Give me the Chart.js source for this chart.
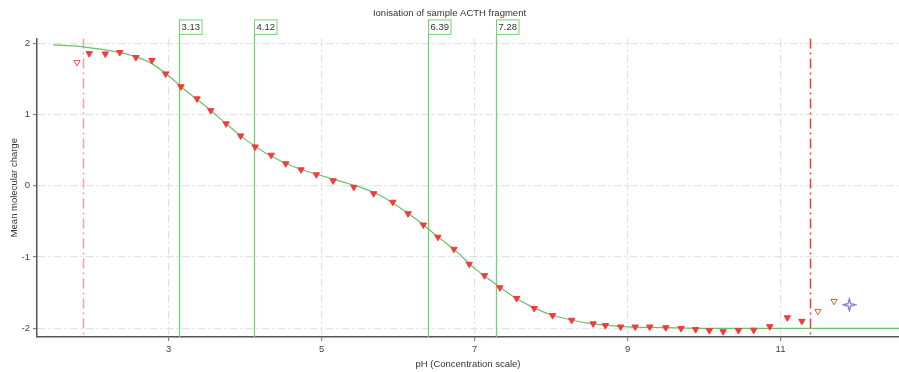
<!DOCTYPE html>
<html>
<head>
<meta charset="utf-8">
<script src="https://cdn.jsdelivr.net/npm/chart.js@4/dist/chart.umd.min.js"></script>
<style>
  html, body { margin: 0; padding: 0; background: #fff; overflow: hidden; }
  #wrap { width: 899px; height: 372px; }
  canvas { display: block; }
</style>
</head>
<body>
<div id="wrap"><canvas id="myChart"></canvas></div>
<script>
// measured points (filled red triangles)
const measuredPH = [1.96, 2.17, 2.36, 2.57, 2.78, 2.96, 3.16, 3.37, 3.55, 3.75, 3.94, 4.13, 4.34, 4.53,
    4.73, 4.93, 5.15, 5.42, 5.68, 5.93, 6.13, 6.33, 6.52, 6.73, 6.93, 7.13, 7.33, 7.55, 7.78, 8.02,
    8.27, 8.55, 8.71, 8.91, 9.10, 9.29, 9.50, 9.70, 9.89, 10.07, 10.25, 10.45, 10.65, 10.86, 11.09, 11.28];
const measuredCharge = [1.855, 1.85, 1.87, 1.80, 1.76, 1.57, 1.39, 1.22, 1.055, 0.87, 0.70, 0.545, 0.43, 0.31,
    0.225, 0.155, 0.07, -0.02, -0.11, -0.23, -0.39, -0.55, -0.72, -0.89, -1.10, -1.26, -1.43, -1.58, -1.72, -1.82,
    -1.885, -1.935, -1.96, -1.98, -1.98, -1.98, -1.99, -2.00, -2.015, -2.03, -2.045, -2.03, -2.025, -1.975, -1.85, -1.90];

// excluded points (open triangles)
const excludedPH = [1.80, 11.49, 11.70];
const excludedCharge = [1.73, -1.76, -1.62];

// the blue star point
const starPH = [11.90];
const starCharge = [-1.67];

// fitted curve
const fitPH = [1.49, 1.75, 2.0, 2.25, 2.5, 2.75, 3.0, 3.25, 3.5, 3.75, 4.0, 4.25, 4.5, 4.75, 5.0, 5.25,
    5.5, 5.75, 6.0, 6.25, 6.5, 6.75, 7.0, 7.25, 7.5, 7.75, 8.0, 8.25, 8.5, 8.75, 9.0, 9.5, 10.0, 11.0, 12.6];
const fitCharge = [1.975, 1.96, 1.93, 1.89, 1.83, 1.73, 1.54, 1.31, 1.10, 0.87, 0.65, 0.47, 0.33, 0.22, 0.14, 0.06,
    -0.02, -0.13, -0.29, -0.48, -0.70, -0.91, -1.16, -1.36, -1.55, -1.70, -1.81, -1.88, -1.93, -1.96, -1.98, -1.99, -2.0, -2.0, -2.0];

// pKa markers and fit range limits
const pkaValues = [3.13, 4.12, 6.39, 7.28];
const pkaLabels = ['3.13', '4.12', '6.39', '7.28'];
const limitPH = [1.88, 11.39];

const xTickValues = [3, 5, 7, 9, 11];
const yTickValues = [-2, -1, 0, 1, 2];

const FONT = "'Liberation Sans', Arial, sans-serif";

function toPoints(xs, ys) {
    return xs.map((v, i) => ({x: v, y: ys[i]}));
}

// 4 pointed star for the blue marker
function makeStar() {
    const c = document.createElement('canvas');
    c.width = 15; c.height = 15;
    const g = c.getContext('2d');
    const cx = 7.5, cy = 7.5, R = 5.9, r = 1.8;
    g.beginPath();
    for (let i = 0; i < 8; i++) {
        const a = -Math.PI / 2 + i * Math.PI / 4;
        const rr = (i % 2 === 0) ? R : r;
        const px = cx + Math.cos(a) * rr, py = cy + Math.sin(a) * rr;
        if (i === 0) g.moveTo(px, py); else g.lineTo(px, py);
    }
    g.closePath();
    g.fillStyle = '#fff';
    g.fill();
    g.strokeStyle = '#6464bc';
    g.lineWidth = 1.1;
    g.stroke();
    return c;
}

const refLines = {
    id: 'refLines',
    beforeDatasetsDraw(chart) {
        const {ctx, chartArea, scales: {x}} = chart;
        ctx.save();
        // red dash-dot limits
        limitPH.forEach((v, i) => {
            const px = Math.round(x.getPixelForValue(v)) + 0.5;
            ctx.beginPath();
            ctx.setLineDash([10, 4, 2, 4]);
            ctx.strokeStyle = i === 0 ? 'rgba(240,80,80,0.55)' : '#f03c3c';
            ctx.lineWidth = 1.5;
            ctx.moveTo(px, chartArea.top);
            ctx.lineTo(px, chartArea.bottom);
            ctx.stroke();
        });
        // green pKa lines, running up into the label boxes
        ctx.setLineDash([]);
        pkaValues.forEach(v => {
            const px = Math.round(x.getPixelForValue(v)) + 0.5;
            ctx.beginPath();
            ctx.strokeStyle = '#74d074';
            ctx.lineWidth = 1.3;
            ctx.moveTo(px, chartArea.top - 4);
            ctx.lineTo(px, chartArea.bottom);
            ctx.stroke();
        });
        ctx.restore();
    },
    afterDraw(chart) {
        const {ctx, chartArea, scales: {x}} = chart;
        ctx.save();
        ctx.font = '9.5px ' + FONT;
        ctx.textBaseline = 'middle';
        pkaValues.forEach((v, i) => {
            const px = Math.round(x.getPixelForValue(v)) + 0.5;
            const w = ctx.measureText(pkaLabels[i]).width + 4;
            const top = chartArea.top - 18.5, h = 14.5;
            ctx.fillStyle = '#fff';
            ctx.fillRect(px, top, w, h);
            ctx.strokeStyle = '#74d074';
            ctx.lineWidth = 1;
            ctx.strokeRect(px, top, w, h);
            ctx.fillStyle = '#333';
            ctx.fillText(pkaLabels[i], px + 2, top + h / 2 + 0.5);
        });
        ctx.restore();
    }
};

const gridDash = [8, 3, 2, 3];

var ctx = document.getElementById('myChart').getContext('2d');
var myChart = new Chart(ctx, {
    type: 'scatter',
    data: {
        datasets: [
            {
                data: toPoints(starPH, starCharge),
                pointStyle: makeStar(),
                pointRadius: 7.5,
                order: 1
            },
            {
                data: toPoints(excludedPH, excludedCharge),
                pointStyle: 'triangle',
                rotation: 180,
                pointRadius: 3.6,
                backgroundColor: '#fff',
                borderColor: '#f05050',
                borderWidth: 1,
                order: 2
            },
            {
                data: toPoints(measuredPH, measuredCharge),
                pointStyle: 'triangle',
                rotation: 180,
                pointRadius: 3.7,
                backgroundColor: '#f03c3c',
                borderColor: '#f03c3c',
                borderWidth: 1,
                order: 3
            },
            {
                data: toPoints(fitPH, fitCharge),
                showLine: true,
                pointRadius: 0,
                borderColor: '#6cbf6c',
                borderWidth: 1.2,
                cubicInterpolationMode: 'monotone',
                order: 10
            }
        ]
    },
    options: {
        responsive: true,
        maintainAspectRatio: false,
        animation: false,
        layout: { padding: 0, autoPadding: false },
        plugins: {
            legend: { display: false },
            tooltip: { enabled: false },
            title: {
                display: true,
                text: 'Ionisation of sample ACTH fragment',
                color: '#333',
                font: { family: FONT, size: 9.5, weight: 'normal' },
                padding: { top: 8, bottom: 19 }
            }
        },
        scales: {
            x: {
                type: 'linear',
                min: 1.277,
                max: 12.55,
                afterBuildTicks: axis => { axis.ticks = xTickValues.map(v => ({value: v})); },
                afterFit: axis => { axis.height = 35; axis.paddingLeft = 0; axis.paddingRight = 0; },
                ticks: { color: '#444', font: { family: FONT, size: 9.5 }, padding: 3 },
                grid: { color: '#e2e2e2', lineWidth: 1.2, tickColor: '#888', tickLength: 4 },
                border: { display: true, color: '#555', width: 1.5, dash: gridDash },
                title: {
                    display: true,
                    text: 'pH (Concentration scale)',
                    color: '#333',
                    font: { family: FONT, size: 9.5 },
                    padding: { top: 4, bottom: 2 }
                }
            },
            y: {
                min: -2.122,
                max: 2.066,
                afterBuildTicks: axis => { axis.ticks = yTickValues.map(v => ({value: v})); },
                afterFit: axis => { axis.width = 37; axis.paddingTop = 0; axis.paddingBottom = 0; },
                ticks: { color: '#444', font: { family: FONT, size: 9.5 }, padding: 3 },
                grid: { color: '#e2e2e2', lineWidth: 1.2, tickColor: '#888', tickLength: 4 },
                border: { display: true, color: '#555', width: 1.5, dash: gridDash },
                title: {
                    display: true,
                    text: 'Mean molecular charge',
                    color: '#333',
                    font: { family: FONT, size: 9.5 },
                    padding: { top: 9, bottom: 2 }
                }
            }
        }
    },
    plugins: [refLines]
});
</script>
</body>
</html>
